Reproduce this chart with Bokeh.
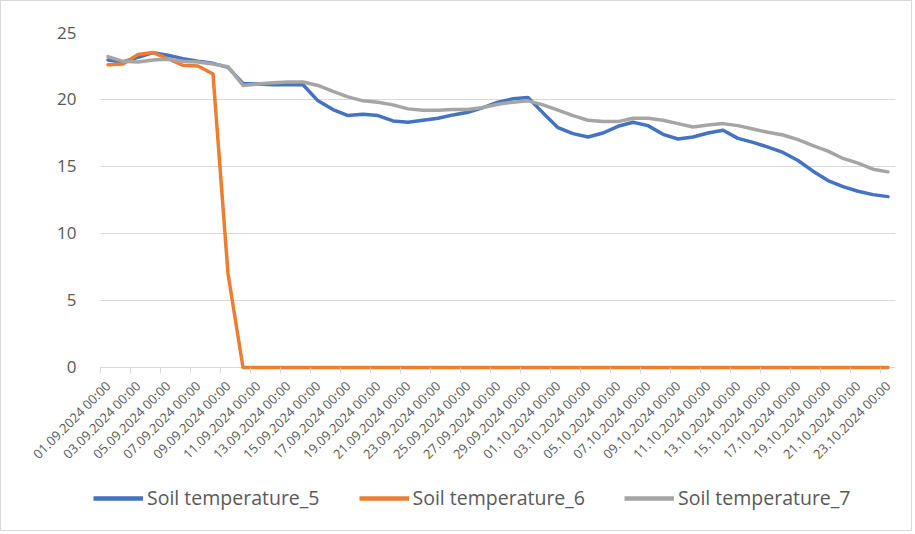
import math
import pandas as pd
from bokeh.plotting import figure
from bokeh.models import FixedTicker, Legend, LegendItem, ColumnDataSource, Range1d
from bokeh.embed import file_html
from bokeh.resources import INLINE

# ---- data ----
dates = [d.strftime("%d.%m.%Y 00:00") for d in pd.date_range("2024-09-01", "2024-10-23", freq="D")]

soil_t5 = [22.95, 22.8, 23.15, 23.5, 23.3, 23.05, 22.85, 22.7, 22.4, 21.2,
           21.15, 21.1, 21.1, 21.1, 19.9, 19.25, 18.8, 18.9, 18.8, 18.4,
           18.3, 18.45, 18.6, 18.85, 19.05, 19.4, 19.8, 20.05, 20.15, 19.0,
           17.9, 17.45, 17.2, 17.5, 18.0, 18.3, 18.05, 17.4, 17.05, 17.2,
           17.5, 17.7, 17.1, 16.8, 16.45, 16.05, 15.45, 14.65, 13.95, 13.5,
           13.15, 12.9, 12.75]

soil_t6 = [22.6, 22.65, 23.35, 23.5, 23.05, 22.55, 22.5, 21.9, 7.0, 0.0,
           0, 0, 0, 0, 0, 0, 0, 0, 0, 0,
           0, 0, 0, 0, 0, 0, 0, 0, 0, 0,
           0, 0, 0, 0, 0, 0, 0, 0, 0, 0,
           0, 0, 0, 0, 0, 0, 0, 0, 0, 0,
           0, 0, 0]

soil_t7 = [23.2, 22.85, 22.8, 22.95, 23.0, 22.85, 22.8, 22.65, 22.45, 21.05,
           21.15, 21.25, 21.3, 21.3, 21.05, 20.6, 20.2, 19.9, 19.8, 19.6,
           19.3, 19.2, 19.2, 19.25, 19.25, 19.4, 19.65, 19.8, 19.9, 19.6,
           19.2, 18.8, 18.45, 18.35, 18.35, 18.6, 18.6, 18.45, 18.2, 17.95,
           18.1, 18.2, 18.05, 17.8, 17.55, 17.35, 17.0, 16.55, 16.15, 15.6,
           15.25, 14.8, 14.6]

series_names = ["Soil temperature_5", "Soil temperature_6", "Soil temperature_7"]
series_colors = ["#4472C4", "#ED7D31", "#A5A5A5"]
y_ticks = [0, 5, 10, 15, 20, 25]

n = len(dates)
idx = list(range(n))
src = ColumnDataSource(dict(x=idx, t5=soil_t5, t6=soil_t6, t7=soil_t7))
cols = ["t5", "t6", "t7"]

W, H1, H2 = 912, 480, 51
p = figure(width=W, height=H1, output_backend="svg", toolbar_location=None,
           x_range=(-0.5, n - 0.5), y_range=(-0.3, 25),
           min_border_left=99, min_border_right=18, min_border_top=31,
           min_border_bottom=110)
p.outline_line_color = None
p.background_fill_color = "white"
p.border_fill_color = "white"
p.styles = {"border": "1px solid #D9D9D9", "border-bottom": "none"}

for col, color in zip(cols, series_colors):
    p.line("x", col, source=src, line_color=color, line_width=3.5,
           line_join="round", line_cap="round")

# x axis: labels at every second category, tick marks at category boundaries
label_pos = idx[::2]
boundaries = [i - 0.5 for i in idx[::2]]
p.xaxis.ticker = FixedTicker(ticks=label_pos, minor_ticks=boundaries)
p.xaxis.major_label_overrides = {i: dates[i] for i in label_pos}
p.xaxis.major_label_orientation = math.pi / 4
p.xaxis.major_tick_line_color = None
p.xaxis.minor_tick_line_color = "#D9D9D9"
p.xaxis.minor_tick_out = 2
p.xaxis.minor_tick_in = 4
p.xaxis.axis_line_color = None
p.xaxis.major_label_text_font = "Open Sans"
p.xaxis.major_label_text_font_size = "13px"
p.xaxis.major_label_text_color = "#595959"
p.xaxis.major_label_standoff = 6
p.xgrid.grid_line_color = None

p.yaxis.ticker = FixedTicker(ticks=y_ticks)
p.yaxis.axis_line_color = None
p.yaxis.major_tick_line_color = None
p.yaxis.minor_tick_line_color = None
p.yaxis.major_label_text_font = "Open Sans"
p.yaxis.major_label_text_font_size = "17px"
p.yaxis.major_label_text_color = "#595959"
p.yaxis.major_label_standoff = 18
p.ygrid.grid_line_color = "#D9D9D9"
p.ygrid.grid_line_width = 1

# legend strip: own small figure so that the legend is not clipped by the plot frame.
# Its renderers use the same data, but the ranges keep the lines themselves out of view.
lg = figure(width=W, height=H2, output_backend="svg", toolbar_location=None,
            x_range=Range1d(1000, 1001), y_range=Range1d(1000, 1001),
            min_border_left=0, min_border_right=0, min_border_top=0, min_border_bottom=0)
lg.axis.visible = False
lg.grid.visible = False
lg.outline_line_color = None
lg.styles = {"border": "1px solid #D9D9D9", "border-top": "none"}
leg_renderers = [lg.line("x", col, source=src, line_color=c, line_width=4.5)
                 for col, c in zip(cols, series_colors)]

legend = Legend(items=[LegendItem(label=nm, renderers=[r]) for nm, r in zip(series_names, leg_renderers)],
                orientation="horizontal", location=(92, 20))
legend.glyph_width = 50
legend.glyph_height = 20
legend.label_standoff = 4
legend.spacing = 39
legend.padding = 0
legend.margin = 0
legend.border_line_color = None
legend.background_fill_alpha = 0
legend.label_text_font = "Open Sans"
legend.label_text_font_size = "19.5px"
legend.label_text_color = "#595959"
lg.add_layout(legend, "center")

open("out.html", "w").write(file_html([p, lg], INLINE))
